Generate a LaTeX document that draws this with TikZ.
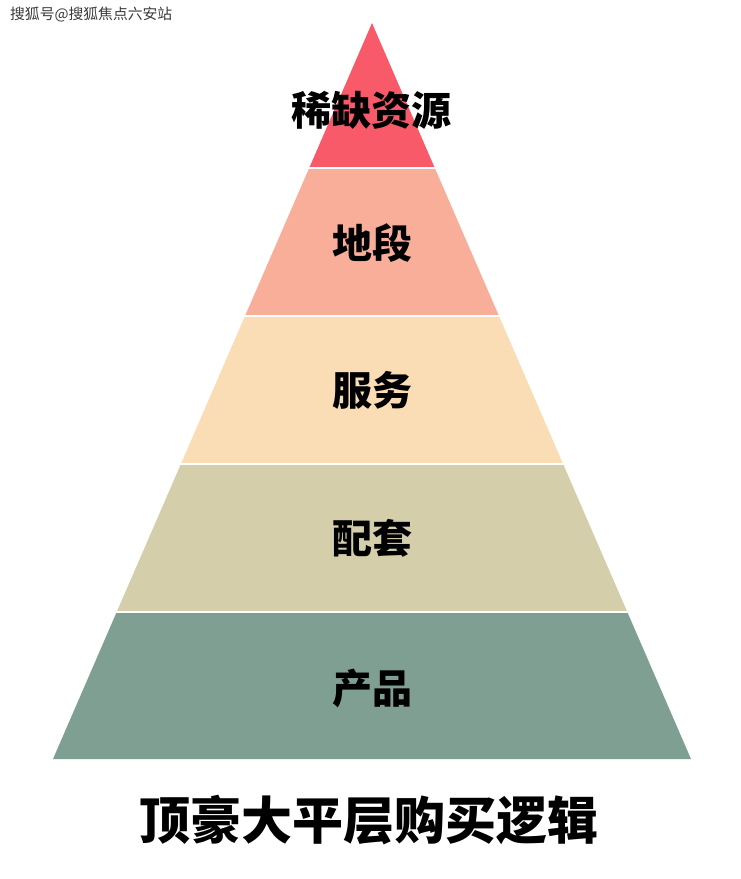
\documentclass[tikz,border=0pt]{standalone}
\usepackage{fontspec}
\setmainfont{Noto Sans CJK SC}
\definecolor{c1}{HTML}{F85A6A}
\definecolor{c2}{HTML}{F9AE9A}
\definecolor{c3}{HTML}{FBDDB5}
\definecolor{c4}{HTML}{D4CEAA}
\definecolor{c5}{HTML}{7E9F92}
\definecolor{wm}{HTML}{3A3A3A}
\begin{document}
\begin{tikzpicture}[x=1pt,y=-1pt,
  lay/.style={font=\fontsize{40}{40}\selectfont\bfseries, text=black, inner sep=0pt},
  sep/.style={draw=white, line width=2pt}]
\useasboundingbox (0,0) rectangle (740,879);
\fill[white] (0,0) rectangle (740,879);
% layers
\fill[c1] (372,23) -- (434.8,168) -- (309.2,168) -- cycle;
\fill[c2] (309.2,168) -- (434.8,168) -- (499.0,316) -- (245.0,316) -- cycle;
\fill[c3] (245.0,316) -- (499.0,316) -- (563.1,464) -- (180.9,464) -- cycle;
\fill[c4] (180.9,464) -- (563.1,464) -- (627.3,612) -- (116.7,612) -- cycle;
\fill[c5] (116.7,612) -- (627.3,612) -- (691,759) -- (53,759) -- cycle;
% separators
\coordinate (s1l) at (307,168); \coordinate (s1r) at (437,168);
\coordinate (s2l) at (243,316); \coordinate (s2r) at (501,316);
\coordinate (s3l) at (179,464); \coordinate (s3r) at (565,464);
\coordinate (s4l) at (115,612); \coordinate (s4r) at (629,612);
\draw[sep] (s1l) -- (s1r);
\draw[sep] (s2l) -- (s2r);
\draw[sep] (s3l) -- (s3r);
\draw[sep] (s4l) -- (s4r);
% labels
\node[lay] (t1) at (371,110) {稀缺资源};
\node[lay] (t2) at (372,243) {地段};
\node[lay] (t3) at (372,390) {服务};
\node[lay] (t4) at (372,538) {配套};
\node[lay] (t5) at (372,688) {产品};
\node[font=\fontsize{51}{51}\selectfont\bfseries, inner sep=0pt] (title) at (369,820) {顶豪大平层购买逻辑};
\node[font=\fontsize{14.8}{14.8}\selectfont, text=wm, anchor=west, inner sep=0pt] (wm) at (10,15) {搜狐号@搜狐焦点六安站};
\end{tikzpicture}
\end{document}
